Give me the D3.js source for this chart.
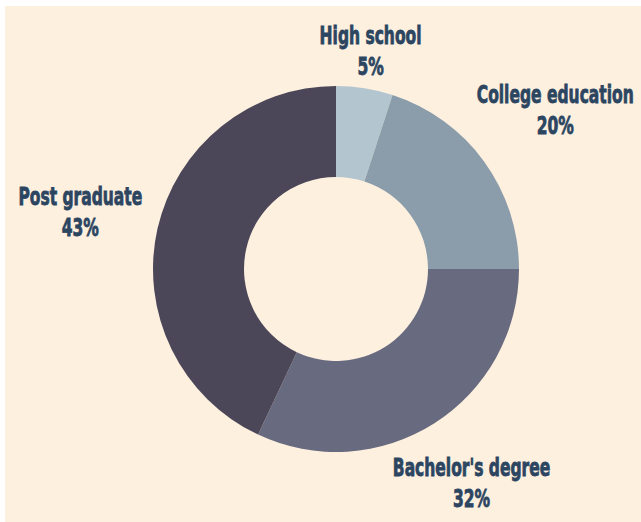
<!DOCTYPE html>
<html>
<head>
<meta charset="utf-8">
<script src="https://cdn.jsdelivr.net/npm/d3@7"></script>
<style>
  html, body { margin: 0; padding: 0; background: #ffffff; }
  svg { display: block; }
</style>
</head>
<body>
<div id="chart"></div>
<script>
// data
var categories = ["High school", "College education", "Bachelor's degree", "Post graduate"];
var percents = [5, 20, 32, 43];
var sliceColors = ["#b3c6d0", "#8b9cab", "#686b7f", "#4b4759"];

var chart_width = 641;
var chart_height = 522;
var cx = 336;
var cy = 269;
var outer_r = 183;
var inner_r = 92;
// distance of each label block from the centre, along the slice mid-angle
var labelRadius = [221, 271, 253, 262];
var textColor = "#2c4561";
var squeeze = 0.69;

var svg = d3
  .select("#chart")
  .append("svg")
  .attr("width", chart_width)
  .attr("height", chart_height);

// background (image has a thin white strip on top and left)
svg
  .append("rect")
  .attr("x", 5)
  .attr("y", 6)
  .attr("width", chart_width - 5)
  .attr("height", chart_height - 6)
  .attr("fill", "#fdf0df");

var rows = categories.map(function(c, i) {
  return { label: c, value: percents[i], color: sliceColors[i], lr: labelRadius[i] };
});

var pie = d3
  .pie()
  .sort(null)
  .value(function(d) {
    return d.value;
  });

var arc = d3.arc().innerRadius(inner_r).outerRadius(outer_r);

var g = svg.append("g").attr("transform", "translate(" + cx + "," + cy + ")");

var arcs = pie(rows);

g.selectAll("path")
  .data(arcs)
  .enter()
  .append("path")
  .attr("d", arc)
  .attr("fill", function(d) {
    return d.data.color;
  });

// labels
var labels = g
  .selectAll("g.label")
  .data(arcs)
  .enter()
  .append("g")
  .attr("class", "label")
  .attr("transform", function(d) {
    var a = (d.startAngle + d.endAngle) / 2;
    var x = Math.sin(a) * d.data.lr;
    var y = -Math.cos(a) * d.data.lr;
    return "translate(" + x + "," + y + ") scale(" + squeeze + ",1)";
  });

labels
  .append("text")
  .attr("y", -7)
  .text(function(d) {
    return d.data.label;
  });

labels
  .append("text")
  .attr("y", 24)
  .text(function(d) {
    return d.data.value + "%";
  });

labels
  .selectAll("text")
  .attr("text-anchor", "middle")
  .attr("font-family", "'DejaVu Sans Condensed', sans-serif")
  .attr("font-weight", "bold")
  .attr("font-size", 25)
  .attr("fill", textColor)
  .attr("stroke", textColor)
  .attr("stroke-width", 0.8);
</script>
</body>
</html>
